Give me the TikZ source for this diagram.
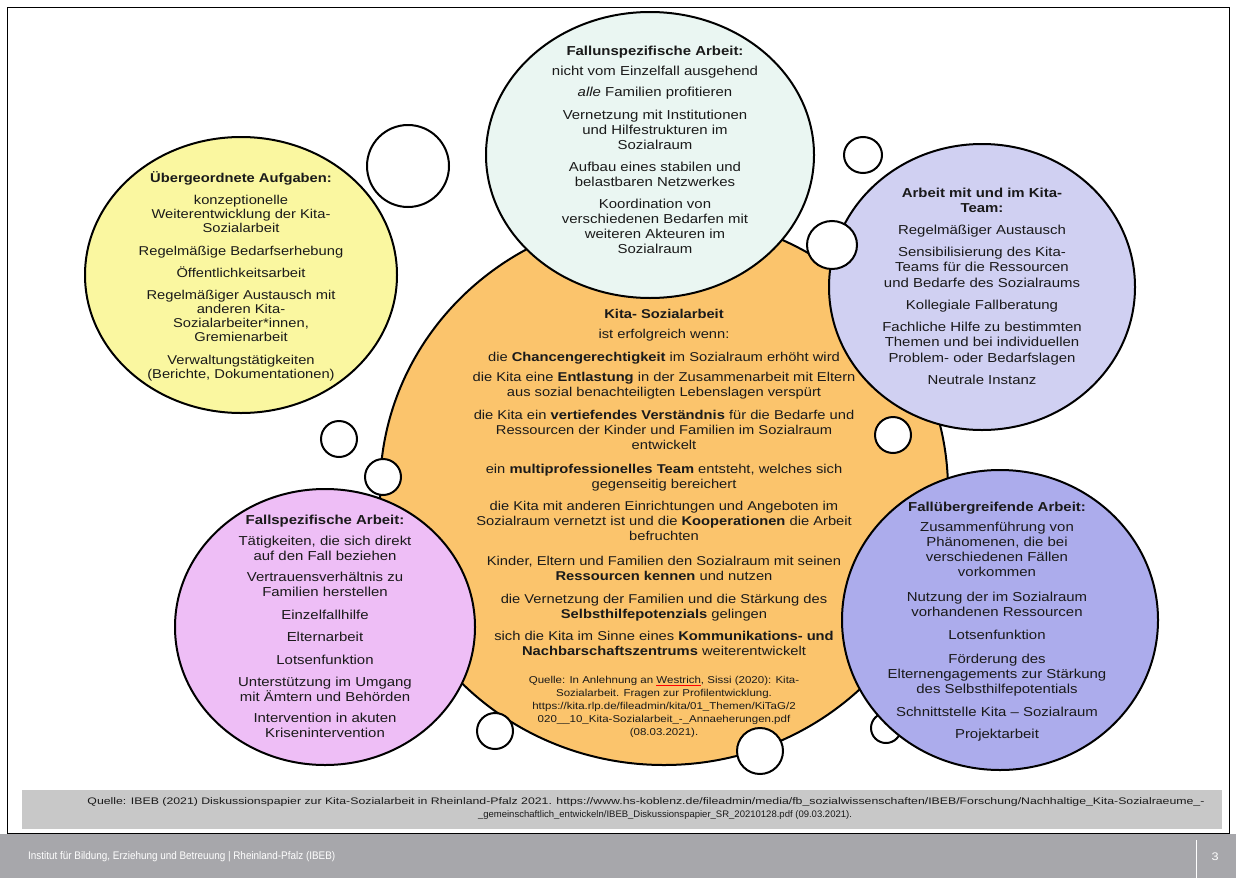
\documentclass[tikz,border=0pt]{standalone}
\usepackage{fontspec}
\usepackage{graphicx}
\setmainfont{Liberation Sans}[FakeStretch=1.15]
\usetikzlibrary{shapes.geometric}
\definecolor{orangebg}{RGB}{251,196,108}
\definecolor{cyanbg}{RGB}{234,246,242}
\definecolor{yellowbg}{RGB}{250,247,160}
\definecolor{lavbg}{RGB}{208,208,242}
\definecolor{pinkbg}{RGB}{238,190,246}
\definecolor{bluebg}{RGB}{172,172,236}
\definecolor{txt}{RGB}{26,26,26}
\definecolor{srcbox}{RGB}{200,200,200}
\definecolor{footbg}{RGB}{167,167,171}
\tikzset{
  bub/.style={ellipse, draw=black, line width=2pt, inner sep=0pt},
  dot/.style={ellipse, draw=black, line width=2pt, fill=white, inner sep=0pt},
  body/.style={anchor=north, align=center, inner sep=0pt, text=txt,
    font=\fontsize{13}{15}\selectfont},
}
\begin{document}
\begin{tikzpicture}[x=1pt,y=-1pt]
\useasboundingbox (0,0) rectangle (1236,878);
\fill[white] (0,0) rectangle (1236,878);
\draw[line width=1pt] (7,7) rectangle (1229,833);

% central cloud
\node[bub, fill=orangebg, minimum width=568pt, minimum height=550pt] (core) at (664,490) {};
\node[dot, minimum width=30pt, minimum height=30pt] (s9) at (886,728) {};

% satellites
\node[bub, fill=cyanbg, minimum width=328pt, minimum height=286pt] (top) at (650,155) {};
\node[bub, fill=yellowbg, minimum width=312pt, minimum height=276pt] (yel) at (241,275) {};
\node[bub, fill=lavbg, minimum width=306pt, minimum height=286pt] (lav) at (982,287) {};
\node[bub, fill=pinkbg, minimum width=300pt, minimum height=276pt] (pink) at (325,627) {};
\node[bub, fill=bluebg, minimum width=316pt, minimum height=300pt] (blue) at (1000,620) {};

% small bubbles
\node[dot, minimum width=82pt, minimum height=82pt] (s1) at (408,166) {};
\node[dot, minimum width=38pt, minimum height=36pt] (s2) at (863,155) {};
\node[dot, minimum width=50pt, minimum height=48pt] (s3) at (832,245) {};
\node[dot, minimum width=36pt, minimum height=36pt] (s4) at (339,439) {};
\node[dot, minimum width=36pt, minimum height=36pt] (s5) at (383,477) {};
\node[dot, minimum width=36pt, minimum height=36pt] (s6) at (893,435) {};
\node[dot, minimum width=36pt, minimum height=36pt] (s7) at (495,731) {};
\node[dot, minimum width=46pt, minimum height=46pt] (s8) at (760,751) {};

% texts
\node[body] (toptext) at (655,45) {\strut\textbf{Fallunspezifische Arbeit:}\\[5pt]
nicht vom Einzelfall ausgehend\\[6pt]
\textit{alle} Familien profitieren\\[8pt]
Vernetzung mit Institutionen\\ und Hilfestrukturen im\\ Sozialraum\\[7pt]
Aufbau eines stabilen und\\ belastbaren Netzwerkes\\[7pt]
Koordination von\\ verschiedenen Bedarfen mit\\ weiteren Akteuren im\\ Sozialraum};

\node[body, font=\fontsize{12.8}{14}\selectfont] (yeltext) at (241,171) {\strut\textbf{Übergeordnete Aufgaben:}\\[8pt]
konzeptionelle\\ Weiterentwicklung der Kita-\\ Sozialarbeit\\[9pt]
Regelmäßige Bedarfserhebung\\[8pt]
Öffentlichkeitsarbeit\\[8pt]
Regelmäßiger Austausch mit\\ anderen Kita-\\ Sozialarbeiter*innen,\\ Gremienarbeit\\[9pt]
Verwaltungstätigkeiten\\ (Berichte, Dokumentationen)};

\node[body, font=\fontsize{13}{15.5}\selectfont] (lavtext) at (982,186) {\strut\textbf{Arbeit mit und im Kita-}\\ \textbf{Team:}\\[6pt]
Regelmäßiger Austausch\\[6.5pt]
Sensibilisierung des Kita-\\ Teams für die Ressourcen\\ und Bedarfe des Sozialraums\\[7pt]
Kollegiale Fallberatung\\[6pt]
Fachliche Hilfe zu bestimmten\\ Themen und bei individuellen\\ Problem- oder Bedarfslagen\\[6.5pt]
Neutrale Instanz};

\node[body] (pinktext) at (325,514) {\strut\textbf{Fallspezifische Arbeit:}\\[6pt]
Tätigkeiten, die sich direkt\\ auf den Fall beziehen\\[6pt]
Vertrauensverhältnis zu\\ Familien herstellen\\[8pt]
Einzelfallhilfe\\[7pt]
Elternarbeit\\[8pt]
Lotsenfunktion\\[7pt]
Unterstützung im Umgang\\ mit Ämtern und Behörden\\[6pt]
Intervention in akuten\\ Krisenintervention};

\node[body] (bluetext) at (997,501) {\strut\textbf{Fallübergreifende Arbeit:}\\[5pt]
Zusammenführung von\\ Phänomenen, die bei\\ verschiedenen Fällen\\ vorkommen\\[10pt]
Nutzung der im Sozialraum\\ vorhandenen Ressourcen\\[8pt]
Lotsenfunktion\\[9pt]
Förderung des\\ Elternengagements zur Stärkung\\ des Selbsthilfepotentials\\[8pt]
Schnittstelle Kita – Sozialraum\\[7pt]
Projektarbeit};

\node[body, font=\fontsize{12.8}{15}\selectfont] (coretext) at (664,308) {\strut\textbf{Kita- Sozialarbeit}\\[5pt]
ist erfolgreich wenn:\\[8pt]
die \textbf{Chancengerechtigkeit} im Sozialraum erhöht wird\\[5pt]
die Kita eine \textbf{Entlastung} in der Zusammenarbeit mit Eltern\\ aus sozial benachteiligten Lebenslagen verspürt\\[8pt]
die Kita ein \textbf{vertiefendes Verständnis} für die Bedarfe und\\ Ressourcen der Kinder und Familien im Sozialraum\\ entwickelt\\[9pt]
ein \textbf{multiprofessionelles Team} entsteht, welches sich\\ gegenseitig bereichert\\[7pt]
die Kita mit anderen Einrichtungen und Angeboten im\\ Sozialraum vernetzt ist und die \textbf{Kooperationen} die Arbeit\\ befruchten\\[10pt]
Kinder, Eltern und Familien den Sozialraum mit seinen\\ \textbf{Ressourcen kennen} und nutzen\\[8pt]
die Vernetzung der Familien und die Stärkung des\\ \textbf{Selbsthilfepotenzials} gelingen\\[7pt]
sich die Kita im Sinne eines \textbf{Kommunikations- und}\\ \textbf{Nachbarschaftszentrums} weiterentwickelt};

\node[body, font=\fontsize{10}{13}\selectfont] (coresrc) at (664,674) {\strut Quelle: In Anlehnung an \textcolor{red}{$\underline{\hbox{\color{txt}Westrich}}$}, Sissi (2020): Kita-\\ Sozialarbeit. Fragen zur Profilentwicklung.\\ https://kita.rlp.de/fileadmin/kita/01\_Themen/KiTaG/2\\ 020\_\_10\_Kita-Sozialarbeit\_-\_Annaeherungen.pdf\\ (08.03.2021).};

% source box
\node[fill=srcbox, minimum width=1200pt, minimum height=39pt, inner sep=0pt] (srcbg) at (622,809.5) {};
\node[inner sep=0pt, text=txt, font=\fontsize{9.5}{13}\selectfont, anchor=base] (src1) at (646,804) {\resizebox{1117pt}{\height}{Quelle: IBEB (2021) Diskussionspapier zur Kita-Sozialarbeit in Rheinland-Pfalz 2021. https://www.hs-koblenz.de/fileadmin/media/fb\_sozialwissenschaften/IBEB/Forschung/Nachhaltige\_Kita-Sozialraeume\_-}};
\node[inner sep=0pt, text=txt, font=\fontsize{9.5}{13}\selectfont, anchor=base] (src2) at (665,817) {\resizebox{374pt}{\height}{\_gemeinschaftlich\_entwickeln/IBEB\_Diskussionspapier\_SR\_20210128.pdf (09.03.2021).}};

% footer
\node[fill=footbg, minimum width=1236pt, minimum height=44pt, inner sep=0pt] (foot) at (618,856) {};
\node[inner sep=0pt, text=white, font=\fontsize{11}{13}\selectfont, anchor=west] (foottext) at (28,857) {\resizebox{307pt}{\height}{Institut für Bildung, Erziehung und Betreuung | Rheinland-Pfalz (IBEB)}};
\coordinate (sepTop) at (1196,840);
\coordinate (sepBot) at (1196,878);
\draw[white, line width=1pt] (sepTop) -- (sepBot);
\node[inner sep=0pt, text=white, font=\fontsize{11}{13}\selectfont] (pagenum) at (1215,857) {3};
\end{tikzpicture}
\end{document}
